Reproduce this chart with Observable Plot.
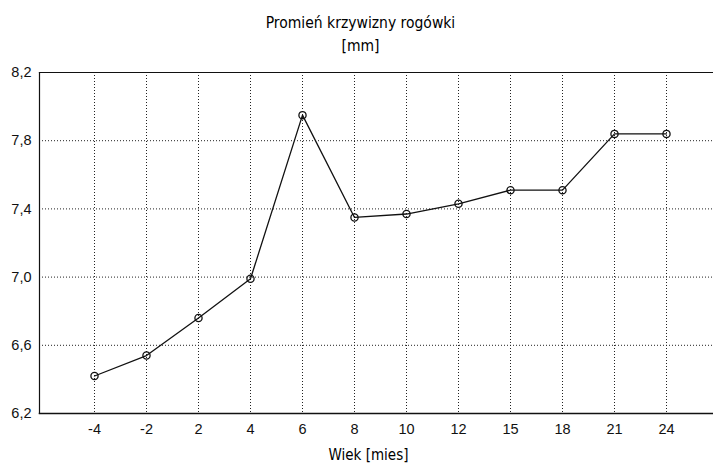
<!DOCTYPE html>
<html>
<head>
<meta charset="utf-8">
<script src="https://cdn.jsdelivr.net/npm/d3@7"></script>
<script src="https://cdn.jsdelivr.net/npm/@observablehq/plot@0.6"></script>
<style>
  html, body { margin: 0; padding: 0; background: #fff; overflow: hidden; }
  #wrap { width: 713px; height: 463px; position: relative; }
  .t { font-family: "DejaVu Sans Condensed", "DejaVu Sans", sans-serif; font-stretch: condensed; font-size: 15.5px; color: #000; text-align: center; width: 713px; position: absolute; left: 4px; }
</style>
</head>
<body>
<div id="wrap">
  <div class="t" style="top:14px">Promień krzywizny rogówki</div>
  <div class="t" style="top:37px">[mm]</div>
  <div id="chart" style="position:absolute; top:60px; left:0;"></div>
</div>
<script>
const ages = ["-4", "-2", "2", "4", "6", "8", "10", "12", "15", "18", "21", "24"];
const radius = [6.42, 6.54, 6.76, 6.99, 7.95, 7.35, 7.37, 7.43, 7.51, 7.51, 7.84, 7.84];
const yTicks = [6.2, 6.6, 7.0, 7.4, 7.8, 8.2];
const yGrid = [6.6, 7.0, 7.4, 7.8];
const xTitle = "Wiek [mies]";

const data = ages.map((a, i) => ({age: a, r: radius[i]}));
const fmt = d => d.toFixed(1).replace(".", ",");

const chart = Plot.plot({
  width: 713,
  height: 403,
  marginTop: 12,
  marginBottom: 50,
  marginLeft: 39,
  marginRight: 0,
  style: {fontFamily: "'Liberation Sans', Arial, sans-serif", fontSize: "14px", color: "#111", background: "white"},
  x: {type: "point", domain: ages, range: [91, 668], padding: 0, label: null},
  y: {domain: [6.2, 8.2], label: null},
  marks: [
    Plot.ruleX(ages, {x: d => d, stroke: "#222", strokeDasharray: "1,2", strokeWidth: 1}),
    Plot.ruleY(yGrid, {stroke: "#222", strokeDasharray: "1,2", strokeWidth: 1}),
    Plot.frame({anchor: "left", stroke: "#111", strokeWidth: 1.2}),
    Plot.frame({anchor: "top", stroke: "#111", strokeWidth: 1.2}),
    Plot.frame({anchor: "bottom", stroke: "#111", strokeWidth: 1.5}),
    Plot.axisY(yTicks, {tickSize: 0, tickPadding: 8, tickFormat: fmt, fontSize: 14.5}),
    Plot.axisX(ages, {tickSize: 0, tickPadding: 10, fontSize: 14.5, label: null}),
    Plot.text([xTitle], {frameAnchor: "bottom", dy: 46, dx: -8, text: d => d, fontSize: 15, fill: "#000", fontFamily: "'DejaVu Sans Condensed', 'DejaVu Sans', sans-serif"}),
    Plot.line(data, {x: "age", y: "r", stroke: "#111", strokeWidth: 1.3}),
    Plot.dot(data, {x: "age", y: "r", r: 3.6, stroke: "#111", strokeWidth: 1.3, fill: "none"})
  ]
});
document.getElementById("chart").appendChild(chart);
</script>
</body>
</html>
